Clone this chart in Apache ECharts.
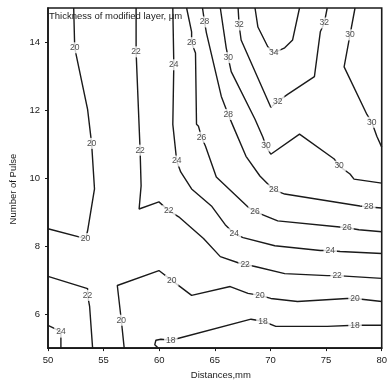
<!DOCTYPE html>
<html>
<head>
<meta charset="utf-8">
<script src="https://cdn.jsdelivr.net/npm/echarts@6/dist/echarts.min.js"></script>
<style>
  html, body { margin: 0; padding: 0; background: #fff; }
  #chart { width: 390px; height: 385px; }
</style>
</head>
<body>
<div id="chart"></div>
<script>
// axis ticks
const xTicks = [50, 55, 60, 65, 70, 75, 80];
const yTicks = [6, 8, 10, 12, 14];

// contour polylines, [distance mm, number of pulse]
const c18 = [[59.9, 5], [59.6, 5.1], [59.7, 5.23], [60.15, 5.26], [61.04, 5.23], [61.75, 5.29], [68.25, 5.85], [69.32, 5.79], [70.48, 5.64], [75.1, 5.64], [77.6, 5.67], [80, 5.67]];
const c20a = [[52.31, 15], [52.4, 13.83], [53.56, 12.02], [53.92, 11.02], [54.18, 9.68], [53.56, 8.45], [53.38, 8.22], [50, 8.51]];
const c20b = [[56.85, 5], [56.59, 5.82], [56.23, 6.84], [59.97, 7.28], [61.13, 6.99], [62.91, 6.55], [66.38, 6.81], [67.98, 6.61], [69.05, 6.55], [70.03, 6.46], [72.43, 6.37], [76.88, 6.46], [77.6, 6.46], [80, 6.37]];
const c22a = [[57.92, 15], [57.92, 13.71], [58.28, 10.82], [58.37, 9.77], [58.19, 9.09], [59.97, 9.3], [60.86, 9.04], [61.75, 8.86], [63.98, 8.22], [65.49, 7.69], [67.09, 7.51], [67.72, 7.46], [68.61, 7.4], [71.28, 7.19], [75.1, 7.13], [75.99, 7.13], [80, 7.05]];
const c22b = [[50, 7.11], [53.56, 6.75], [53.56, 6.55], [53.74, 6.23], [54.01, 5]];
const c24a = [[61.22, 15], [61.31, 13.33], [61.22, 11.58], [61.57, 10.5], [61.93, 10.18], [62.91, 9.68], [64.69, 9.18], [65.93, 8.63], [66.74, 8.36], [67.54, 8.25], [70.39, 8.01], [74.48, 7.87], [75.37, 7.87], [76.26, 7.84], [80, 7.78]];
const c24b = [[50, 5.67], [50.71, 5.56], [51.16, 5.47], [51.16, 5.23], [51.16, 5]];
const c26 = [[62.46, 15], [62.91, 14.3], [62.91, 13.98], [63.26, 13.68], [63.35, 11.58], [63.53, 11.52], [63.8, 11.2], [64.15, 10.94], [65.13, 10.03], [67.98, 9.15], [68.61, 9.01], [69.76, 8.86], [70.65, 8.74], [75.99, 8.57], [76.88, 8.54], [77.95, 8.48], [80, 8.42]];
const c28 = [[63.89, 15], [64.07, 14.59], [64.24, 14.27], [65.58, 12.4], [66.2, 11.87], [66.65, 11.52], [67.8, 10.64], [69.05, 10.06], [70.3, 9.65], [71.28, 9.53], [78.04, 9.18], [78.84, 9.15], [80, 9.12]];
const c30a = [[65.49, 15], [66.02, 13.83], [66.2, 13.54], [66.47, 13.13], [68.61, 11.73], [69.32, 11.2], [69.59, 10.94], [70.03, 10.7], [72.61, 11.29], [75.73, 10.56], [76.17, 10.35], [77.15, 10.12], [77.51, 9.97], [80, 9.85]];
const c30b = [[77.6, 15], [77.15, 14.21], [76.62, 13.27], [78.67, 11.87], [79.11, 11.64], [79.56, 11.23], [80, 10.91]];
const c32 = [[67.09, 15], [67.18, 14.5], [67.36, 14.06], [70.03, 12.08], [70.65, 12.25], [71.54, 12.46], [73.95, 12.98], [74.48, 14.3], [74.84, 14.56], [75.1, 15]];
const c34 = [[68.61, 15], [68.87, 14.44], [69.76, 13.86], [70.3, 13.68], [71.28, 13.83], [71.99, 14.06], [72.61, 15]];

// level of each line and which of its points carry the value label
const contourLines = [
  [18, c18, [4, 7, 10]],
  [20, c20a, [1, 3, 6]],
  [20, c20b, [1, 4, 8, 12]],
  [22, c22a, [1, 2, 6, 11, 15]],
  [22, c22b, [2]],
  [24, c24a, [1, 3, 8, 12]],
  [24, c24b, [2]],
  [26, c26, [2, 6, 10, 14]],
  [28, c28, [1, 4, 8, 11]],
  [30, c30a, [2, 6, 10]],
  [30, c30b, [1, 4]],
  [32, c32, [1, 4, 8]],
  [34, c34, [3]]
];

const font = 'Liberation Sans, Arial, sans-serif';
const chart = echarts.init(document.getElementById('chart'));

const series = [];
contourLines.forEach(([level, pts, labelIdx]) => {
  series.push({
    type: 'line',
    data: pts,
    showSymbol: false,
    smooth: false,
    silent: true,
    lineStyle: { color: '#1a1a1a', width: 1.4 },
    z: 2
  });
  series.push({
    type: 'scatter',
    data: labelIdx.map(i => pts[i]),
    symbolSize: 1,
    itemStyle: { color: 'rgba(0,0,0,0)' },
    silent: true,
    z: 5,
    label: {
      show: true,
      position: 'inside',
      formatter: String(level),
      color: '#1a1a1a',
      fontFamily: font,
      fontSize: 8.5,
      backgroundColor: '#fff',
      padding: [1, 2]
    }
  });
});

chart.setOption({
  animation: false,
  backgroundColor: '#fff',
  grid: {
    left: 48, right: 5, top: 8, bottom: 35,
    show: true, borderColor: '#1a1a1a', borderWidth: 1.6, backgroundColor: 'transparent'
  },
  graphic: [{
    type: 'text',
    left: 49, top: 11,
    z: 10,
    style: { text: 'Thickness of modified layer, \u03bcm', font: '9.5px ' + font, fill: '#1a1a1a' }
  }],
  xAxis: {
    type: 'value',
    min: 50, max: 80, interval: 5,
    name: 'Distances,mm',
    nameLocation: 'middle',
    nameGap: 19,
    nameTextStyle: { fontFamily: font, fontSize: 9.5, color: '#1a1a1a', padding: [0, 0, 0, 12] },
    axisLine: { lineStyle: { color: '#1a1a1a', width: 1.6 } },
    axisTick: { show: true, length: 3, lineStyle: { color: '#1a1a1a' } },
    axisLabel: { fontFamily: font, fontSize: 9.5, color: '#1a1a1a', margin: 7 },
    splitLine: { show: false }
  },
  yAxis: {
    type: 'value',
    min: 5, max: 15, interval: 1,
    name: 'Number of Pulse',
    nameLocation: 'middle',
    nameGap: 27,
    nameTextStyle: { fontFamily: font, fontSize: 9.5, color: '#1a1a1a', padding: [0, 22, 0, 0] },
    axisLine: { lineStyle: { color: '#1a1a1a', width: 1.6 } },
    axisTick: { show: true, length: 3, customValues: yTicks, lineStyle: { color: '#1a1a1a' } },
    axisLabel: { fontFamily: font, fontSize: 9.5, color: '#1a1a1a', margin: 8, customValues: yTicks },
    splitLine: { show: false }
  },
  series: series
});
</script>
</body>
</html>
